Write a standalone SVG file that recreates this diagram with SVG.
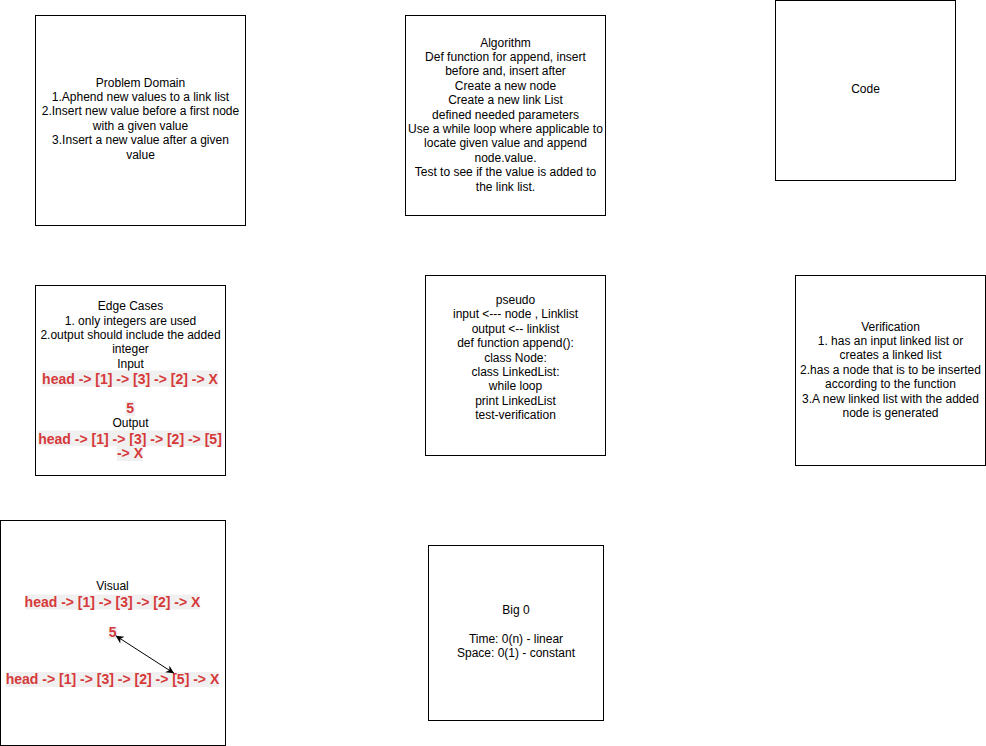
<svg xmlns="http://www.w3.org/2000/svg" width="986" height="746" viewBox="0 0 986 746">
<style>
.box{fill:#ffffff;stroke:#000000;stroke-width:1}
.t{font-family:"Liberation Sans",Arial,Helvetica,sans-serif;font-size:12px;fill:#000000;text-anchor:middle}
.r{font-family:"Liberation Sans",Arial,Helvetica,sans-serif;font-size:14px;font-weight:bold;fill:#d6393a;text-anchor:middle}
.bg{fill:#f0f0f0}
.edge{stroke:#000000;stroke-width:1;fill:none}
</style>
<defs>
<marker id="arr" viewBox="0 0 10 10" refX="10" refY="5" markerWidth="9" markerHeight="8" markerUnits="userSpaceOnUse" orient="auto-start-reverse">
<path d="M10,5 L0,0 L3,5 L0,10 Z" fill="#000000"/>
</marker>
</defs>
<rect x="0" y="0" width="986" height="746" fill="#ffffff"/>

<g id="problem-domain">
<rect class="box" x="35.5" y="15.5" width="210" height="210"/>
<text class="t" x="140.5" y="86.6">Problem Domain</text>
<text class="t" x="140.5" y="101">1.Aphend new values to a link list</text>
<text class="t" x="140.5" y="115.4">2.Insert new value before a first node</text>
<text class="t" x="140.5" y="129.8">with a given value</text>
<text class="t" x="140.5" y="144.2">3.Insert a new value after a given</text>
<text class="t" x="140.5" y="158.6">value</text>
</g>

<g id="algorithm">
<rect class="box" x="405.5" y="15.5" width="200" height="200"/>
<text class="t" x="505.5" y="46.5">Algorithm</text>
<text class="t" x="505.5" y="60.9">Def function for append, insert</text>
<text class="t" x="505.5" y="75.3">before and, insert after</text>
<text class="t" x="505.5" y="89.7">Create a new node</text>
<text class="t" x="505.5" y="104.1">Create a new link List</text>
<text class="t" x="505.5" y="118.5">defined needed parameters</text>
<text class="t" x="505.5" y="132.9">Use a while loop where applicable to</text>
<text class="t" x="505.5" y="147.3">locate given value and append</text>
<text class="t" x="505.5" y="161.7">node.value.</text>
<text class="t" x="505.5" y="176.1">Test to see if the value is added to</text>
<text class="t" x="505.5" y="190.5">the link list.</text>
</g>

<g id="code">
<rect class="box" x="775.5" y="0.5" width="180" height="180"/>
<text class="t" x="865.5" y="93.3">Code</text>
</g>

<g id="edge-cases">
<rect class="box" x="35.5" y="285.5" width="190" height="190"/>
<text class="t" x="130.5" y="310">Edge Cases</text>
<text class="t" x="130.5" y="324.5">1. only integers are used</text>
<text class="t" x="130.5" y="339">2.output should include the added</text>
<text class="t" x="130.5" y="353.3">integer</text>
<text class="t" x="130.5" y="367.7">Input</text>
<rect class="bg" x="41.7" y="370.5" width="176.6" height="16"/>
<text class="r" x="130" y="383.7">head -&gt; [1] -&gt; [3] -&gt; [2] -&gt; X</text>
<rect class="bg" x="125.5" y="401" width="9.5" height="15"/>
<text class="r" x="130.2" y="413">5</text>
<text class="t" x="130.5" y="427">Output</text>
<rect class="bg" x="38" y="430.5" width="184" height="15.5"/>
<text class="r" x="130" y="443.7">head -&gt; [1] -&gt; [3] -&gt; [2] -&gt; [5]</text>
<rect class="bg" x="117" y="446" width="26" height="15"/>
<text class="r" x="130" y="458.3">-&gt; X</text>
</g>

<g id="pseudo">
<rect class="box" x="425.5" y="275.5" width="180" height="180"/>
<text class="t" x="515.5" y="304">pseudo</text>
<text class="t" x="515.5" y="318.4">input &lt;--- node , Linklist</text>
<text class="t" x="515.5" y="332.8">output &lt;-- linklist</text>
<text class="t" x="515.5" y="347.2">def function append():</text>
<text class="t" x="515.5" y="361.6">class Node:</text>
<text class="t" x="515.5" y="376">class LinkedList:</text>
<text class="t" x="515.5" y="390.4">while loop</text>
<text class="t" x="515.5" y="404.8">print LinkedList</text>
<text class="t" x="515.5" y="419.2">test-verification</text>
</g>

<g id="verification">
<rect class="box" x="795.5" y="275.5" width="190" height="190"/>
<text class="t" x="890.5" y="330.5">Verification</text>
<text class="t" x="890.5" y="344.9">1. has an input linked list or</text>
<text class="t" x="890.5" y="359.3">creates a linked list</text>
<text class="t" x="890.5" y="373.7">2.has a node that is to be inserted</text>
<text class="t" x="890.5" y="388.1">according to the function</text>
<text class="t" x="890.5" y="402.5">3.A new linked list with the added</text>
<text class="t" x="890.5" y="416.9">node is generated</text>
</g>

<g id="visual">
<rect class="box" x="0.5" y="520.5" width="225" height="225"/>
<text class="t" x="112.5" y="590">Visual</text>
<rect class="bg" x="25" y="594.5" width="175" height="15"/>
<text class="r" x="112.5" y="606.7">head -&gt; [1] -&gt; [3] -&gt; [2] -&gt; X</text>
<rect class="bg" x="108.3" y="626.5" width="9" height="12.5"/>
<text class="r" x="112.7" y="637">5</text>
<rect class="bg" x="6" y="672" width="213" height="15"/>
<text class="r" x="112.5" y="684">head -&gt; [1] -&gt; [3] -&gt; [2] -&gt; [5] -&gt; X</text>
</g>

<g id="big-o">
<rect class="box" x="428.5" y="545.5" width="175" height="175"/>
<text class="t" x="516" y="614.2">Big 0</text>
<text class="t" x="516" y="643">Time: 0(n) - linear</text>
<text class="t" x="516" y="657.4">Space: 0(1) - constant</text>
</g>

<g id="connectors">
<line class="edge" x1="115.7" y1="635.7" x2="174" y2="673.3" marker-start="url(#arr)" marker-end="url(#arr)"/>
</g>
</svg>
